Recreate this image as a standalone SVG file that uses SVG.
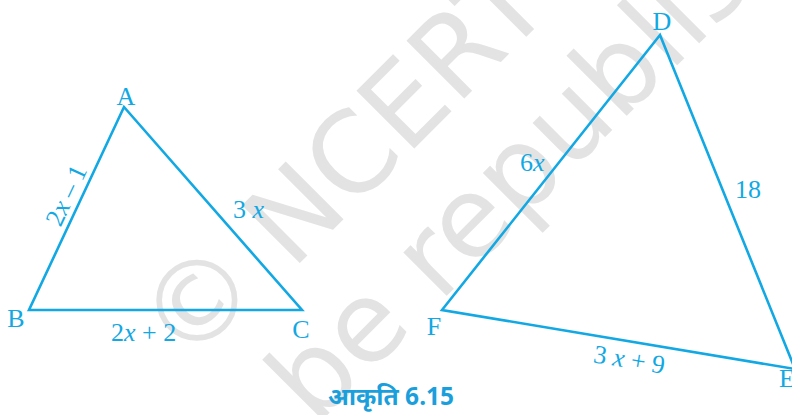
<svg xmlns="http://www.w3.org/2000/svg" width="792" height="415" viewBox="0 0 792 415">
<style>
.wm{font-family:"DejaVu Sans",Verdana,sans-serif;fill:#e3e3e3;font-size:112px}
.edge{fill:none;stroke:#12a8e3;stroke-width:2.6;stroke-linejoin:miter}
.v{font-family:"Liberation Serif","Times New Roman",serif;fill:#12a8e3;font-size:26px}
.l{font-family:"Liberation Serif","Times New Roman",serif;fill:#12a8e3;font-size:26px}
.i{font-style:italic}
.cap{font-family:"Noto Sans","Noto Sans Devanagari","Lohit Devanagari",sans-serif;font-weight:bold;fill:#1a9fdc;font-size:24.5px}
</style>
<g id="watermark" transform="rotate(-45)">
<text class="wm" x="-73" y="392" text-anchor="middle" font-size="100">©</text>
<text class="wm" x="15" y="398">NCERT</text>
<text class="wm" x="-79" y="525">be republished</text>
</g>
<g id="connectors">
<path class="edge" d="M124,107 L29,310 L302,310 Z"/>
<path class="edge" d="M660,35 L795,369 L442,310 Z"/>
</g>
<g id="node-A"><text class="v" x="126" y="105" text-anchor="middle" font-size="25">A</text></g>
<g id="node-B"><text class="v" x="16" y="327" text-anchor="middle" font-size="25">B</text></g>
<g id="node-C"><text class="v" x="301" y="338" text-anchor="middle" font-size="28">C</text></g>
<g id="label-AB"><text class="l" x="74" y="199" text-anchor="middle" font-size="29" transform="rotate(-65 74 199)">2<tspan class="i">x</tspan> – 1</text></g>
<g id="label-AC"><text class="l" x="233" y="218">3 <tspan class="i">x</tspan></text></g>
<g id="label-BC"><text class="l" x="111" y="341" font-size="27">2<tspan class="i">x</tspan> + 2</text></g>
<g id="node-D"><text class="v" x="662" y="30" text-anchor="middle" font-size="29">D</text></g>
<g id="node-E"><text class="v" x="779" y="387" font-size="27">E</text></g>
<g id="node-F"><text class="v" x="434" y="335" text-anchor="middle" font-size="29">F</text></g>
<g id="label-DF"><text class="l" x="520" y="171" font-size="29">6<tspan class="i">x</tspan></text></g>
<g id="label-DE"><text class="l" x="735" y="198" font-size="27">18</text></g>
<g id="label-FE"><text class="l" x="628" y="368" text-anchor="middle" font-size="28" transform="rotate(9.4 628 368)">3 <tspan class="i">x</tspan> + 9</text></g>
<g id="caption"><text class="cap" x="391" y="405" text-anchor="middle">आकृति 6.15</text></g>
</svg>
